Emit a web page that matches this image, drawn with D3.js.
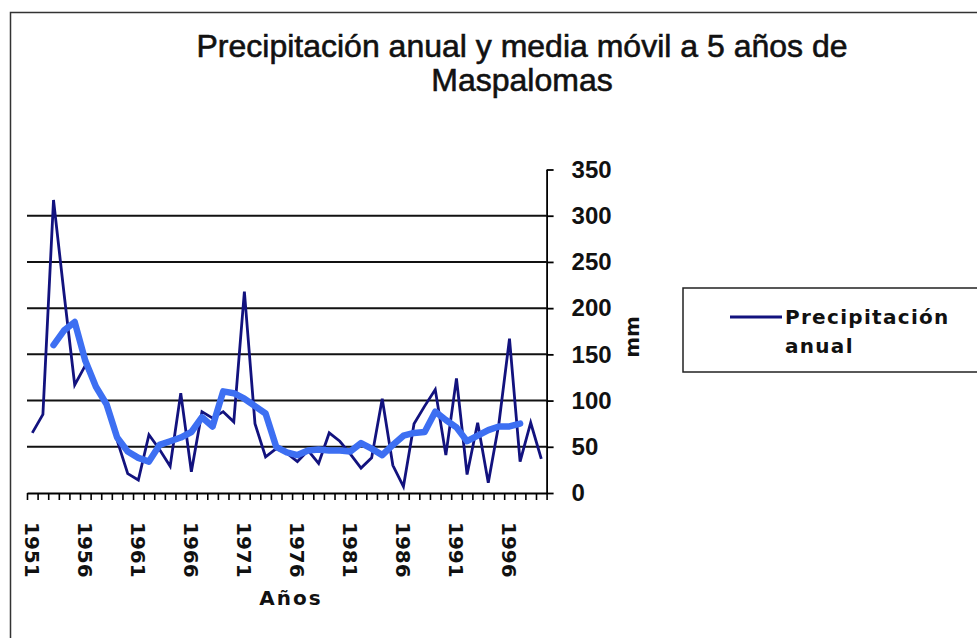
<!DOCTYPE html>
<html>
<head>
<meta charset="utf-8">
<script src="https://cdn.jsdelivr.net/npm/d3@7"></script>
<style>
  body { margin: 0; background: #fff; }
  svg { display: block; }
  .axis path, .axis line { stroke: #000; }
</style>
</head>
<body>
<div id="chart"></div>
<script>
// years on the category axis
var years = [1951, 1952, 1953, 1954, 1955, 1956, 1957, 1958, 1959, 1960,
             1961, 1962, 1963, 1964, 1965, 1966, 1967, 1968, 1969, 1970,
             1971, 1972, 1973, 1974, 1975, 1976, 1977, 1978, 1979, 1980,
             1981, 1982, 1983, 1984, 1985, 1986, 1987, 1988, 1989, 1990,
             1991, 1992, 1993, 1994, 1995, 1996, 1997, 1998, 1999];

// annual precipitation (mm)
var precip = [65, 85, 317, 215, 117, 138, 115, 93, 57, 21,
              14, 63, 47, 29, 108, 23, 88, 81, 88, 77,
              218, 75, 39, 48, 43, 34, 46, 32, 65, 56,
              42, 27, 38, 102, 30, 7, 75, 94, 112, 41,
              124, 20, 76, 11, 75, 167, 34, 76, 37];

// 5 year moving average (centered), 1953 - 1997
var maYears = [1953, 1954, 1955, 1956, 1957, 1958, 1959, 1960, 1961, 1962,
               1963, 1964, 1965, 1966, 1967, 1968, 1969, 1970, 1971, 1972,
               1973, 1974, 1975, 1976, 1977, 1978, 1979, 1980, 1981, 1982,
               1983, 1984, 1985, 1986, 1987, 1988, 1989, 1990, 1991, 1992,
               1993, 1994, 1995, 1996, 1997];
var movAvg = [160, 176, 185, 143, 115, 96, 60, 45, 38, 34,
              52, 56, 60, 66, 82, 72, 110, 108, 102, 94,
              86, 50, 44, 41, 46, 47, 46, 46, 45, 54,
              48, 41, 52, 62, 65, 66, 88, 79, 71, 56,
              62, 68, 72, 72, 75];

var yTicks = [0, 50, 100, 150, 200, 250, 300, 350];
var xLabelYears = [1951, 1956, 1961, 1966, 1971, 1976, 1981, 1986, 1991, 1996];

var W = 977, H = 638;
var plot = {left: 27, right: 546.6, top: 169.5, bottom: 493};

var svg = d3.select("#chart").append("svg")
    .attr("width", W)
    .attr("height", H);

// outer frame (right and bottom edges run off the picture)
svg.append("rect")
    .attr("x", 10.5).attr("y", 12.5)
    .attr("width", W + 20).attr("height", H + 20)
    .attr("fill", "#fff")
    .attr("stroke", "#333")
    .attr("stroke-width", 1.5);

var x = d3.scaleBand().domain(years).range([plot.left, plot.right]);
var xEdge = d3.scaleLinear().domain([0, years.length]).range([plot.left, plot.right]);
var y = d3.scaleLinear().domain([0, 350]).range([plot.bottom, plot.top]);
var cx = function(yr) { return x(yr) + x.bandwidth() / 2; };

// title
var title = svg.append("text")
    .attr("text-anchor", "middle")
    .attr("font-family", "'Liberation Sans', Arial, sans-serif")
    .attr("font-size", 32)
    .attr("fill", "#111")
    .attr("stroke", "#111")
    .attr("stroke-width", 0.6);
title.append("tspan").attr("x", 522).attr("y", 57)
    .text("Precipitación anual y media móvil a 5 años de");
title.append("tspan").attr("x", 522).attr("y", 91)
    .text("Maspalomas");

// gridlines
svg.append("g").attr("class", "grid")
  .selectAll("line")
  .data(yTicks.filter(function(d) { return d > 0 && d < 350; }))
  .enter().append("line")
    .attr("x1", plot.left).attr("x2", plot.right)
    .attr("y1", function(d) { return y(d); })
    .attr("y2", function(d) { return y(d); })
    .attr("stroke", "#111")
    .attr("stroke-width", 2);

// y axis on the right
var yAxis = svg.append("g")
    .attr("class", "axis")
    .attr("transform", "translate(" + plot.right + ",0)")
    .call(d3.axisRight(y).tickValues(yTicks).tickSize(7).tickPadding(18).tickSizeOuter(0));
yAxis.select(".domain").attr("stroke-width", 1.8);
yAxis.selectAll(".tick line").attr("stroke-width", 1.8);
yAxis.selectAll("text")
    .attr("font-family", "'Liberation Sans', Arial, sans-serif")
    .attr("font-weight", "bold")
    .attr("font-size", 24)
    .attr("fill", "#111");

// x axis: tick marks between categories
var xTicks = svg.append("g")
    .attr("class", "axis")
    .attr("transform", "translate(0," + plot.bottom + ")")
    .call(d3.axisBottom(xEdge).tickValues(d3.range(years.length + 1)).tickSize(7).tickSizeOuter(0).tickFormat(""));
xTicks.select(".domain").attr("stroke-width", 1.8);
xTicks.selectAll(".tick line").attr("stroke-width", 1.6);

// x labels, rotated
var xLabels = svg.append("g")
    .attr("transform", "translate(0," + plot.bottom + ")")
    .call(d3.axisBottom(x).tickValues(xLabelYears).tickSize(0).tickFormat(d3.format("d")));
xLabels.select(".domain").remove();
xLabels.selectAll("text")
    .attr("transform", "rotate(90)")
    .attr("x", 29)
    .attr("y", 0)
    .attr("dy", "0.36em")
    .attr("text-anchor", "start")
    .attr("font-family", "'DejaVu Sans', Verdana, sans-serif")
    .attr("font-weight", "bold")
    .attr("font-size", 20)
    .attr("fill", "#111");

// axis titles
svg.append("text")
    .attr("x", 291).attr("y", 605)
    .attr("text-anchor", "middle")
    .attr("font-family", "'DejaVu Sans', Verdana, sans-serif")
    .attr("font-weight", "bold")
    .attr("font-size", 20)
    .attr("letter-spacing", 2)
    .attr("fill", "#111")
    .text("Años");

svg.append("text")
    .attr("transform", "translate(639,337) rotate(-90)")
    .attr("text-anchor", "middle")
    .attr("font-family", "'DejaVu Sans', Verdana, sans-serif")
    .attr("font-weight", "bold")
    .attr("font-size", 20)
    .attr("fill", "#111")
    .text("mm");

// series
var precipLine = d3.line()
    .x(function(d, i) { return cx(years[i]); })
    .y(function(d) { return y(d); });

var maLine = d3.line()
    .x(function(d, i) { return cx(maYears[i]); })
    .y(function(d) { return y(d); });

svg.append("path")
    .datum(precip)
    .attr("d", precipLine)
    .attr("fill", "none")
    .attr("stroke", "#12127e")
    .attr("stroke-width", 2.8)
    .attr("stroke-linejoin", "miter");

svg.append("path")
    .datum(movAvg)
    .attr("d", maLine)
    .attr("fill", "none")
    .attr("stroke", "#3d6ff2")
    .attr("stroke-width", 6.5)
    .attr("stroke-linejoin", "round")
    .attr("stroke-linecap", "round");

// legend
var legend = svg.append("g");
legend.append("rect")
    .attr("x", 683).attr("y", 288)
    .attr("width", 320).attr("height", 84)
    .attr("fill", "#fff")
    .attr("stroke", "#222")
    .attr("stroke-width", 1.5);
legend.append("line")
    .attr("x1", 730).attr("x2", 782)
    .attr("y1", 317).attr("y2", 317)
    .attr("stroke", "#12127e")
    .attr("stroke-width", 2.8);
var lt = legend.append("text")
    .attr("font-family", "'DejaVu Sans', Verdana, sans-serif")
    .attr("font-weight", "bold")
    .attr("font-size", 20)
    .attr("letter-spacing", 1.3)
    .attr("fill", "#111");
lt.append("tspan").attr("x", 785).attr("y", 324).text("Precipitación");
lt.append("tspan").attr("x", 785).attr("y", 353).text("anual");
</script>
</body>
</html>
